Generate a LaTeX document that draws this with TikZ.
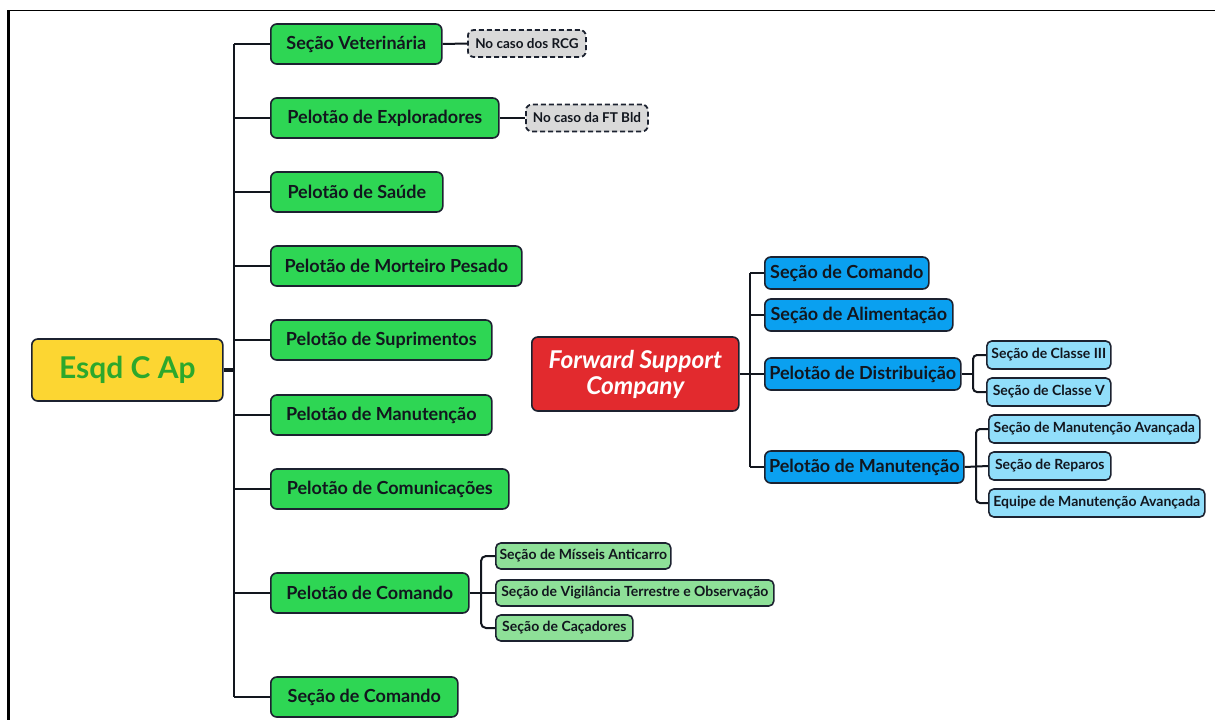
\documentclass[tikz,border=0pt]{standalone}
\usepackage{fontspec}
\setmainfont{Lato}
\definecolor{edge}{RGB}{28,34,48}
\definecolor{ink}{RGB}{18,22,30}
\definecolor{grn}{RGB}{46,214,84}
\definecolor{lgrn}{RGB}{142,224,152}
\definecolor{yel}{RGB}{252,214,50}
\definecolor{rootink}{RGB}{44,168,44}
\definecolor{fscred}{RGB}{226,42,46}
\definecolor{blu}{RGB}{10,160,240}
\definecolor{lblu}{RGB}{145,222,250}
\definecolor{gry}{RGB}{217,217,217}
\begin{document}
\begin{tikzpicture}[x=1pt,y=-1pt,
  box/.style={draw=edge, line width=1.6pt, rounded corners=6pt, inner sep=0pt,
    anchor=west, text=ink, font=\bfseries\fontsize{18}{21}\selectfont},
  unitbox/.style={box, fill=grn, minimum height=40pt},
  subgrn/.style={box, fill=lgrn, minimum height=26pt, rounded corners=5pt,
    font=\bfseries\fontsize{14}{16}\selectfont},
  bluebox/.style={box, fill=blu, minimum height=32pt},
  subblu/.style={box, fill=lblu, minimum height=28pt, rounded corners=5pt,
    font=\bfseries\fontsize{14}{16}\selectfont},
  notebox/.style={box, fill=gry, dash pattern=on 5pt off 3pt, line width=1.8pt,
    minimum height=27pt, font=\bfseries\fontsize{13.5}{15}\selectfont},
  link/.style={draw=ink, line width=2pt},
]
\useasboundingbox (0,0) rectangle (1216,720);
% frame
\draw[line width=1.5pt] (8,10.5) -- (1215,10.5);
\draw[line width=3pt] (8,10) -- (8,720);

% root and its units
\node[box, fill=yel, minimum width=191pt, minimum height=62pt, text=rootink,
  font=\bfseries\fontsize{30}{34}\selectfont] (root) at (31,370) {Esqd C Ap};

\node[unitbox, minimum width=171pt] (vet) at (270,44) {Seção Veterinária};
\node[unitbox, minimum width=228pt] (expl) at (270,118) {Pelotão de Exploradores};
\node[unitbox, minimum width=172pt] (saude) at (270,192) {Pelotão de Saúde};
\node[unitbox, minimum width=251pt] (mort) at (270,266) {Pelotão de Morteiro Pesado};
\node[unitbox, minimum width=221pt] (supr) at (270,340) {Pelotão de Suprimentos};
\node[unitbox, minimum width=221pt] (manut) at (270,415) {Pelotão de Manutenção};
\node[unitbox, minimum width=238pt] (comun) at (270,489) {Pelotão de Comunicações};
\node[unitbox, minimum width=198pt] (cmd) at (270,593) {Pelotão de Comando};
\node[unitbox, minimum width=187pt] (secmd) at (270,697) {Seção de Comando};

\node[notebox, minimum width=118pt] (rcg) at (467,43.5) {No caso dos RCG};
\node[notebox, minimum width=122pt] (ftb) at (525,118) {No caso da FT Bld};

\node[subgrn, minimum width=175pt] (mis) at (495,556) {Seção de Mísseis Anticarro};
\node[subgrn, minimum width=278pt] (vig) at (495,593) {Seção de Vigilância Terrestre e Observação};
\node[subgrn, minimum width=137pt] (cac) at (495,628) {Seção de Caçadores};

% trunk of the squadron
\coordinate (tr) at (234,370);
\draw[link, line width=4pt] (root.east) -- (tr);
\draw[link, line width=2.6pt] (tr |- vet.west) -- (tr |- secmd.west);
\foreach \n in {vet,expl,saude,mort,supr,manut,comun,cmd,secmd}
  \draw[link] (tr |- \n.west) -- (\n.west);
\draw[link] (vet.east) -- (rcg.west);
\draw[link] (expl.east) -- (ftb.west);

\coordinate (cb) at (481,593);
\draw[link] (cmd.east) -- (vig.west);
\draw[link, rounded corners=5pt] (mis.west) -| (cb) |- (cac.west);

% forward support company
\node[box, fill=fscred, minimum width=207pt, minimum height=74pt, align=center,
  text=white, font=\bfseries\itshape\fontsize{24.5}{26}\selectfont] (fsc) at (531,374)
  {Forward Support\\Company};

\node[bluebox, minimum width=164pt] (fcmd) at (764,273) {Seção de Comando};
\node[bluebox, minimum width=188pt] (falim) at (764,315) {Seção de Alimentação};
\node[bluebox, minimum width=196pt] (fdist) at (764,374) {Pelotão de Distribuição};
\node[bluebox, minimum width=199pt] (fman) at (764,467) {Pelotão de Manutenção};

\node[subblu, minimum width=124pt] (c3) at (986,355) {Seção de Classe III};
\node[subblu, minimum width=124pt] (c5) at (986,392) {Seção de Classe V};
\node[subblu, minimum width=211pt] (sma) at (988,429) {Seção de Manutenção Avançada};
\node[subblu, minimum width=122pt] (srep) at (988,466) {Seção de Reparos};
\node[subblu, minimum width=216pt] (ema) at (988,503) {Equipe de Manutenção Avançada};

\coordinate (ft) at (750,374);
\draw[link] (fsc.east) -- (ft);
\draw[link] (ft |- fcmd.west) -- (ft |- fman.west);
\foreach \n in {fcmd,falim,fdist,fman}
  \draw[link] (ft |- \n.west) -- (\n.west);

\coordinate (db) at (973,374);
\draw[link] (fdist.east) -- (db);
\draw[link, rounded corners=4pt] (c3.west) -| (db) |- (c5.west);

\coordinate (mb) at (976,467);
\draw[link] (fman.east) -- (srep.west);
\draw[link, rounded corners=4pt] (sma.west) -| (mb) |- (ema.west);
\end{tikzpicture}
\end{document}
